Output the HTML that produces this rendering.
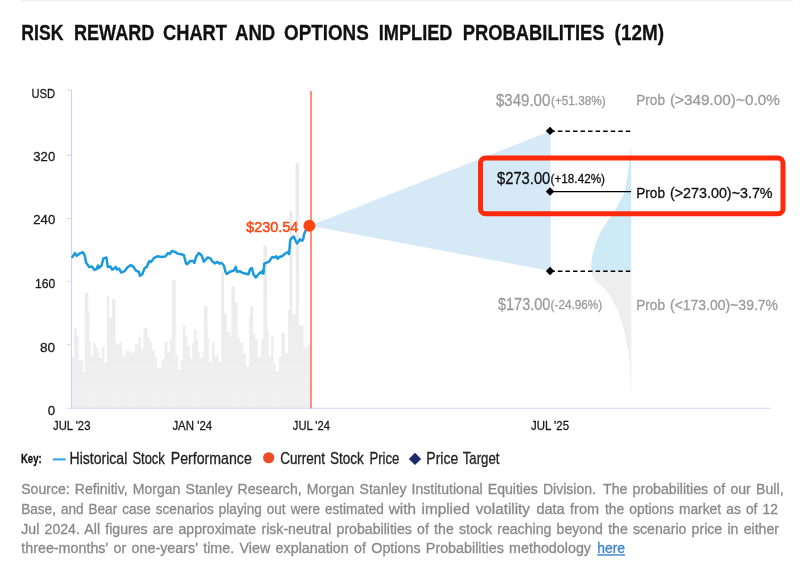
<!DOCTYPE html>
<html lang="en">
<head>
<meta charset="utf-8">
<title>Risk Reward Chart and Options Implied Probabilities (12M)</title>
<style>
html,body{margin:0;padding:0;background:#fff;}
body{width:800px;height:565px;overflow:hidden;}
svg{display:block;font-family:"Liberation Sans", sans-serif;will-change:transform;}
</style>
</head>
<body>
<svg width="800" height="565" viewBox="0 0 800 565">
<rect width="800" height="565" fill="#ffffff"/>
<rect x="21" y="0" width="772" height="0.8" fill="#ebebeb"/>
<text x="21.3" y="40.4" font-size="21.8" fill="#111" stroke="#111" stroke-width="0.3" textLength="42.1" lengthAdjust="spacingAndGlyphs" font-weight="bold">RISK</text>
<text x="73.9" y="40.4" font-size="21.8" fill="#111" stroke="#111" stroke-width="0.3" textLength="80.5" lengthAdjust="spacingAndGlyphs" font-weight="bold">REWARD</text>
<text x="163" y="40.4" font-size="21.8" fill="#111" stroke="#111" stroke-width="0.3" textLength="64" lengthAdjust="spacingAndGlyphs" font-weight="bold">CHART</text>
<text x="235" y="40.4" font-size="21.8" fill="#111" stroke="#111" stroke-width="0.3" textLength="40.3" lengthAdjust="spacingAndGlyphs" font-weight="bold">AND</text>
<text x="284" y="40.4" font-size="21.8" fill="#111" stroke="#111" stroke-width="0.3" textLength="84.8" lengthAdjust="spacingAndGlyphs" font-weight="bold">OPTIONS</text>
<text x="378.8" y="40.4" font-size="21.8" fill="#111" stroke="#111" stroke-width="0.3" textLength="73.7" lengthAdjust="spacingAndGlyphs" font-weight="bold">IMPLIED</text>
<text x="462.8" y="40.4" font-size="21.8" fill="#111" stroke="#111" stroke-width="0.3" textLength="141.8" lengthAdjust="spacingAndGlyphs" font-weight="bold">PROBABILITIES</text>
<text x="614.6" y="40.4" font-size="21.8" fill="#111" stroke="#111" stroke-width="0.3" textLength="49.4" lengthAdjust="spacingAndGlyphs" font-weight="bold">(12M)</text>
<defs><linearGradient id="vg" gradientUnits="userSpaceOnUse" x1="0" y1="160" x2="0" y2="395"><stop offset="0" stop-color="#000" stop-opacity="0.03"/><stop offset="0.55" stop-color="#000" stop-opacity="0.022"/><stop offset="1" stop-color="#000" stop-opacity="0"/></linearGradient></defs>
<path d="M72,408.2 L72,356.8 L74,356.8 L74,327.7 L76.7,327.7 L76.7,336 L78.8,336 L78.8,360 L80.9,360 L80.9,359.2 L83.1,359.2 L83.1,372 L84.7,372 L84.7,292.5 L88.4,292.5 L88.4,312 L89.5,312 L89.5,340.8 L90.8,340.8 L90.8,355 L93.2,355 L93.2,342.4 L95.6,342.4 L95.6,347.2 L97.5,347.2 L97.5,352.8 L99.6,352.8 L99.6,358 L101.7,358 L101.7,347.2 L104.4,347.2 L104.4,362.4 L106.8,362.4 L106.8,296 L109.2,296 L109.2,317.6 L111.9,317.6 L111.9,299.2 L115.6,299.2 L115.6,343.2 L117.7,343.2 L117.7,344.8 L119.6,344.8 L119.6,341.6 L122,341.6 L122,355.2 L125.2,355.2 L125.2,350.4 L128.4,350.4 L128.4,351.2 L131.6,351.2 L131.6,352.8 L134.8,352.8 L134.8,343.7 L138,343.7 L138,337.6 L141.2,337.6 L141.2,348.8 L143.3,348.8 L143.3,328.3 L147.6,328.3 L147.6,337.6 L150,337.6 L150,342.4 L152.4,342.4 L152.4,350.4 L154.8,350.4 L154.8,356.8 L157.2,356.8 L157.2,368 L161.2,368 L161.2,359.2 L164.4,359.2 L164.4,341.6 L167.6,341.6 L167.6,352 L170,352 L170,338.4 L172,338.4 L172,280 L175.6,280 L175.6,355.2 L178,355.2 L178,369.6 L180.4,369.6 L180.4,360 L182.8,360 L182.8,325.6 L185.5,325.6 L185.5,336 L187.6,336 L187.6,345.6 L190,345.6 L190,358.4 L191.9,358.4 L191.9,342.4 L194,342.4 L194,330 L196.4,330 L196.4,339.2 L198.3,339.2 L198.3,352 L200.4,352 L200.4,358 L202.5,358 L202.5,352 L204,352 L204,305.6 L207.6,305.6 L207.6,339 L209.2,339 L209.2,361.6 L211.6,361.6 L211.6,342.4 L214.8,342.4 L214.8,356.8 L216.4,356.8 L216.4,354.4 L218.8,354.4 L218.8,361.6 L221.2,361.6 L221.2,271.7 L224,271.7 L224,313.3 L226.8,313.3 L226.8,332 L230,332 L230,336 L231.3,336 L231.3,286.4 L235.1,286.4 L235.1,302.7 L237.7,302.7 L237.7,337.6 L239.9,337.6 L239.9,342.4 L243.6,342.4 L243.6,353.6 L246,353.6 L246,366.4 L248.9,366.4 L248.9,317 L250,317 L250,306.4 L253.2,306.4 L253.2,334.4 L255.3,334.4 L255.3,339.2 L258,339.2 L258,356.8 L261.2,356.8 L261.2,339.2 L263.3,339.2 L263.3,245.7 L267.1,245.7 L267.1,330.4 L268.7,330.4 L268.7,356.8 L270.8,356.8 L270.8,336 L273.5,336 L273.5,362.4 L275.6,362.4 L275.6,371 L278.8,371 L278.8,356.8 L281.2,356.8 L281.2,332.8 L285.2,332.8 L285.2,353.6 L287.9,353.6 L287.9,310 L289.3,310 L289.3,211 L292.5,211 L292.5,314.4 L295.6,314.4 L295.6,162.9 L299.1,162.9 L299.1,325.6 L303.6,325.6 L303.6,347.2 L308.4,347.2 L308.4,343.2 L310,343.2 L310,408.2 Z" fill="#f2f2f2"/>
<path d="M72,408.2 L72,356.8 L74,356.8 L74,327.7 L76.7,327.7 L76.7,336 L78.8,336 L78.8,360 L80.9,360 L80.9,359.2 L83.1,359.2 L83.1,372 L84.7,372 L84.7,292.5 L88.4,292.5 L88.4,312 L89.5,312 L89.5,340.8 L90.8,340.8 L90.8,355 L93.2,355 L93.2,342.4 L95.6,342.4 L95.6,347.2 L97.5,347.2 L97.5,352.8 L99.6,352.8 L99.6,358 L101.7,358 L101.7,347.2 L104.4,347.2 L104.4,362.4 L106.8,362.4 L106.8,296 L109.2,296 L109.2,317.6 L111.9,317.6 L111.9,299.2 L115.6,299.2 L115.6,343.2 L117.7,343.2 L117.7,344.8 L119.6,344.8 L119.6,341.6 L122,341.6 L122,355.2 L125.2,355.2 L125.2,350.4 L128.4,350.4 L128.4,351.2 L131.6,351.2 L131.6,352.8 L134.8,352.8 L134.8,343.7 L138,343.7 L138,337.6 L141.2,337.6 L141.2,348.8 L143.3,348.8 L143.3,328.3 L147.6,328.3 L147.6,337.6 L150,337.6 L150,342.4 L152.4,342.4 L152.4,350.4 L154.8,350.4 L154.8,356.8 L157.2,356.8 L157.2,368 L161.2,368 L161.2,359.2 L164.4,359.2 L164.4,341.6 L167.6,341.6 L167.6,352 L170,352 L170,338.4 L172,338.4 L172,280 L175.6,280 L175.6,355.2 L178,355.2 L178,369.6 L180.4,369.6 L180.4,360 L182.8,360 L182.8,325.6 L185.5,325.6 L185.5,336 L187.6,336 L187.6,345.6 L190,345.6 L190,358.4 L191.9,358.4 L191.9,342.4 L194,342.4 L194,330 L196.4,330 L196.4,339.2 L198.3,339.2 L198.3,352 L200.4,352 L200.4,358 L202.5,358 L202.5,352 L204,352 L204,305.6 L207.6,305.6 L207.6,339 L209.2,339 L209.2,361.6 L211.6,361.6 L211.6,342.4 L214.8,342.4 L214.8,356.8 L216.4,356.8 L216.4,354.4 L218.8,354.4 L218.8,361.6 L221.2,361.6 L221.2,271.7 L224,271.7 L224,313.3 L226.8,313.3 L226.8,332 L230,332 L230,336 L231.3,336 L231.3,286.4 L235.1,286.4 L235.1,302.7 L237.7,302.7 L237.7,337.6 L239.9,337.6 L239.9,342.4 L243.6,342.4 L243.6,353.6 L246,353.6 L246,366.4 L248.9,366.4 L248.9,317 L250,317 L250,306.4 L253.2,306.4 L253.2,334.4 L255.3,334.4 L255.3,339.2 L258,339.2 L258,356.8 L261.2,356.8 L261.2,339.2 L263.3,339.2 L263.3,245.7 L267.1,245.7 L267.1,330.4 L268.7,330.4 L268.7,356.8 L270.8,356.8 L270.8,336 L273.5,336 L273.5,362.4 L275.6,362.4 L275.6,371 L278.8,371 L278.8,356.8 L281.2,356.8 L281.2,332.8 L285.2,332.8 L285.2,353.6 L287.9,353.6 L287.9,310 L289.3,310 L289.3,211 L292.5,211 L292.5,314.4 L295.6,314.4 L295.6,162.9 L299.1,162.9 L299.1,325.6 L303.6,325.6 L303.6,347.2 L308.4,347.2 L308.4,343.2 L310,343.2 L310,408.2 Z" fill="url(#vg)"/>
<g fill="#000" fill-opacity="0.0055">
<rect x="72" y="356.8" width="2.86" height="51.4"/>
<rect x="72.95" y="356.8" width="2.86" height="51.4"/>
<rect x="73.91" y="327.7" width="2.86" height="80.5"/>
<rect x="74.86" y="336" width="2.86" height="72.2"/>
<rect x="75.81" y="336" width="2.86" height="72.2"/>
<rect x="76.77" y="360" width="2.86" height="48.2"/>
<rect x="77.72" y="360" width="2.86" height="48.2"/>
<rect x="78.67" y="360" width="2.86" height="48.2"/>
<rect x="79.62" y="360" width="2.86" height="48.2"/>
<rect x="80.58" y="359.2" width="2.86" height="49"/>
<rect x="81.53" y="372" width="2.86" height="36.2"/>
<rect x="82.48" y="372" width="2.86" height="36.2"/>
<rect x="83.44" y="372" width="2.86" height="36.2"/>
<rect x="84.39" y="292.5" width="2.86" height="115.7"/>
<rect x="85.34" y="292.5" width="2.86" height="115.7"/>
<rect x="86.3" y="312" width="2.86" height="96.2"/>
<rect x="87.25" y="340.8" width="2.86" height="67.4"/>
<rect x="88.2" y="340.8" width="2.86" height="67.4"/>
<rect x="89.15" y="355" width="2.86" height="53.2"/>
<rect x="90.11" y="355" width="2.86" height="53.2"/>
<rect x="91.06" y="355" width="2.86" height="53.2"/>
<rect x="92.01" y="355" width="2.86" height="53.2"/>
<rect x="92.97" y="342.4" width="2.86" height="65.8"/>
<rect x="93.92" y="347.2" width="2.86" height="61"/>
<rect x="94.87" y="347.2" width="2.86" height="61"/>
<rect x="95.83" y="352.8" width="2.86" height="55.4"/>
<rect x="96.78" y="352.8" width="2.86" height="55.4"/>
<rect x="97.73" y="358" width="2.86" height="50.2"/>
<rect x="98.68" y="358" width="2.86" height="50.2"/>
<rect x="99.64" y="358" width="2.86" height="50.2"/>
<rect x="100.59" y="358" width="2.86" height="50.2"/>
<rect x="101.54" y="347.2" width="2.86" height="61"/>
<rect x="102.5" y="362.4" width="2.86" height="45.8"/>
<rect x="103.45" y="362.4" width="2.86" height="45.8"/>
<rect x="104.4" y="362.4" width="2.86" height="45.8"/>
<rect x="105.36" y="362.4" width="2.86" height="45.8"/>
<rect x="106.31" y="296" width="2.86" height="112.2"/>
<rect x="107.26" y="317.6" width="2.86" height="90.6"/>
<rect x="108.21" y="317.6" width="2.86" height="90.6"/>
<rect x="109.17" y="317.6" width="2.86" height="90.6"/>
<rect x="110.12" y="317.6" width="2.86" height="90.6"/>
<rect x="111.07" y="317.6" width="2.86" height="90.6"/>
<rect x="112.03" y="299.2" width="2.86" height="109"/>
<rect x="112.98" y="299.2" width="2.86" height="109"/>
<rect x="113.93" y="343.2" width="2.86" height="65"/>
<rect x="114.89" y="343.2" width="2.86" height="65"/>
<rect x="115.84" y="344.8" width="2.86" height="63.4"/>
<rect x="116.79" y="344.8" width="2.86" height="63.4"/>
<rect x="117.74" y="344.8" width="2.86" height="63.4"/>
<rect x="118.7" y="344.8" width="2.86" height="63.4"/>
<rect x="119.65" y="341.6" width="2.86" height="66.6"/>
<rect x="120.6" y="355.2" width="2.86" height="53"/>
<rect x="121.56" y="355.2" width="2.86" height="53"/>
<rect x="122.51" y="355.2" width="2.86" height="53"/>
<rect x="123.46" y="355.2" width="2.86" height="53"/>
<rect x="124.42" y="355.2" width="2.86" height="53"/>
<rect x="125.37" y="350.4" width="2.86" height="57.8"/>
<rect x="126.32" y="351.2" width="2.86" height="57"/>
<rect x="127.27" y="351.2" width="2.86" height="57"/>
<rect x="128.23" y="351.2" width="2.86" height="57"/>
<rect x="129.18" y="351.2" width="2.86" height="57"/>
<rect x="130.13" y="352.8" width="2.86" height="55.4"/>
<rect x="131.09" y="352.8" width="2.86" height="55.4"/>
<rect x="132.04" y="352.8" width="2.86" height="55.4"/>
<rect x="132.99" y="352.8" width="2.86" height="55.4"/>
<rect x="133.95" y="352.8" width="2.86" height="55.4"/>
<rect x="134.9" y="343.7" width="2.86" height="64.5"/>
<rect x="135.85" y="343.7" width="2.86" height="64.5"/>
<rect x="136.8" y="343.7" width="2.86" height="64.5"/>
<rect x="137.76" y="337.6" width="2.86" height="70.6"/>
<rect x="138.71" y="337.6" width="2.86" height="70.6"/>
<rect x="139.66" y="348.8" width="2.86" height="59.4"/>
<rect x="140.62" y="348.8" width="2.86" height="59.4"/>
<rect x="141.57" y="348.8" width="2.86" height="59.4"/>
<rect x="142.52" y="348.8" width="2.86" height="59.4"/>
<rect x="143.48" y="328.3" width="2.86" height="79.9"/>
<rect x="144.43" y="328.3" width="2.86" height="79.9"/>
<rect x="145.38" y="337.6" width="2.86" height="70.6"/>
<rect x="146.33" y="337.6" width="2.86" height="70.6"/>
<rect x="147.29" y="337.6" width="2.86" height="70.6"/>
<rect x="148.24" y="342.4" width="2.86" height="65.8"/>
<rect x="149.19" y="342.4" width="2.86" height="65.8"/>
<rect x="150.15" y="350.4" width="2.86" height="57.8"/>
<rect x="151.1" y="350.4" width="2.86" height="57.8"/>
<rect x="152.05" y="350.4" width="2.86" height="57.8"/>
<rect x="153.01" y="356.8" width="2.86" height="51.4"/>
<rect x="153.96" y="356.8" width="2.86" height="51.4"/>
<rect x="154.91" y="368" width="2.86" height="40.2"/>
<rect x="155.86" y="368" width="2.86" height="40.2"/>
<rect x="156.82" y="368" width="2.86" height="40.2"/>
<rect x="157.77" y="368" width="2.86" height="40.2"/>
<rect x="158.72" y="368" width="2.86" height="40.2"/>
<rect x="159.68" y="368" width="2.86" height="40.2"/>
<rect x="160.63" y="368" width="2.86" height="40.2"/>
<rect x="161.58" y="359.2" width="2.86" height="49"/>
<rect x="162.54" y="359.2" width="2.86" height="49"/>
<rect x="163.49" y="359.2" width="2.86" height="49"/>
<rect x="164.44" y="341.6" width="2.86" height="66.6"/>
<rect x="165.39" y="352" width="2.86" height="56.2"/>
<rect x="166.35" y="352" width="2.86" height="56.2"/>
<rect x="167.3" y="352" width="2.86" height="56.2"/>
<rect x="168.25" y="352" width="2.86" height="56.2"/>
<rect x="169.21" y="352" width="2.86" height="56.2"/>
<rect x="170.16" y="338.4" width="2.86" height="69.8"/>
<rect x="171.11" y="338.4" width="2.86" height="69.8"/>
<rect x="172.07" y="280" width="2.86" height="128.2"/>
<rect x="173.02" y="280" width="2.86" height="128.2"/>
<rect x="173.97" y="355.2" width="2.86" height="53"/>
<rect x="174.92" y="355.2" width="2.86" height="53"/>
<rect x="175.88" y="369.6" width="2.86" height="38.6"/>
<rect x="176.83" y="369.6" width="2.86" height="38.6"/>
<rect x="177.78" y="369.6" width="2.86" height="38.6"/>
<rect x="178.74" y="369.6" width="2.86" height="38.6"/>
<rect x="179.69" y="369.6" width="2.86" height="38.6"/>
<rect x="180.64" y="360" width="2.86" height="48.2"/>
<rect x="181.6" y="360" width="2.86" height="48.2"/>
<rect x="182.55" y="325.6" width="2.86" height="82.6"/>
<rect x="183.5" y="336" width="2.86" height="72.2"/>
<rect x="184.45" y="336" width="2.86" height="72.2"/>
<rect x="185.41" y="345.6" width="2.86" height="62.6"/>
<rect x="186.36" y="345.6" width="2.86" height="62.6"/>
<rect x="187.31" y="345.6" width="2.86" height="62.6"/>
<rect x="188.27" y="358.4" width="2.86" height="49.8"/>
<rect x="189.22" y="358.4" width="2.86" height="49.8"/>
<rect x="190.17" y="358.4" width="2.86" height="49.8"/>
<rect x="191.13" y="358.4" width="2.86" height="49.8"/>
<rect x="192.08" y="342.4" width="2.86" height="65.8"/>
<rect x="193.03" y="342.4" width="2.86" height="65.8"/>
<rect x="193.98" y="330" width="2.86" height="78.2"/>
<rect x="194.94" y="339.2" width="2.86" height="69"/>
<rect x="195.89" y="339.2" width="2.86" height="69"/>
<rect x="196.84" y="352" width="2.86" height="56.2"/>
<rect x="197.8" y="352" width="2.86" height="56.2"/>
<rect x="198.75" y="358" width="2.86" height="50.2"/>
<rect x="199.7" y="358" width="2.86" height="50.2"/>
<rect x="200.66" y="358" width="2.86" height="50.2"/>
<rect x="201.61" y="358" width="2.86" height="50.2"/>
<rect x="202.56" y="352" width="2.86" height="56.2"/>
<rect x="203.51" y="305.6" width="2.86" height="102.6"/>
<rect x="204.47" y="305.6" width="2.86" height="102.6"/>
<rect x="205.42" y="339" width="2.86" height="69.2"/>
<rect x="206.37" y="339" width="2.86" height="69.2"/>
<rect x="207.33" y="361.6" width="2.86" height="46.6"/>
<rect x="208.28" y="361.6" width="2.86" height="46.6"/>
<rect x="209.23" y="361.6" width="2.86" height="46.6"/>
<rect x="210.19" y="361.6" width="2.86" height="46.6"/>
<rect x="211.14" y="342.4" width="2.86" height="65.8"/>
<rect x="212.09" y="342.4" width="2.86" height="65.8"/>
<rect x="213.04" y="356.8" width="2.86" height="51.4"/>
<rect x="214" y="356.8" width="2.86" height="51.4"/>
<rect x="214.95" y="356.8" width="2.86" height="51.4"/>
<rect x="215.9" y="354.4" width="2.86" height="53.8"/>
<rect x="216.86" y="361.6" width="2.86" height="46.6"/>
<rect x="217.81" y="361.6" width="2.86" height="46.6"/>
<rect x="218.76" y="361.6" width="2.86" height="46.6"/>
<rect x="219.72" y="361.6" width="2.86" height="46.6"/>
<rect x="220.67" y="271.7" width="2.86" height="136.5"/>
<rect x="221.62" y="271.7" width="2.86" height="136.5"/>
<rect x="222.57" y="313.3" width="2.86" height="94.9"/>
<rect x="223.53" y="313.3" width="2.86" height="94.9"/>
<rect x="224.48" y="313.3" width="2.86" height="94.9"/>
<rect x="225.43" y="332" width="2.86" height="76.2"/>
<rect x="226.39" y="332" width="2.86" height="76.2"/>
<rect x="227.34" y="332" width="2.86" height="76.2"/>
<rect x="228.29" y="336" width="2.86" height="72.2"/>
<rect x="229.25" y="336" width="2.86" height="72.2"/>
<rect x="230.2" y="336" width="2.86" height="72.2"/>
<rect x="231.15" y="286.4" width="2.86" height="121.8"/>
<rect x="232.1" y="286.4" width="2.86" height="121.8"/>
<rect x="233.06" y="302.7" width="2.86" height="105.5"/>
<rect x="234.01" y="302.7" width="2.86" height="105.5"/>
<rect x="234.96" y="302.7" width="2.86" height="105.5"/>
<rect x="235.92" y="337.6" width="2.86" height="70.6"/>
<rect x="236.87" y="337.6" width="2.86" height="70.6"/>
<rect x="237.82" y="342.4" width="2.86" height="65.8"/>
<rect x="238.78" y="342.4" width="2.86" height="65.8"/>
<rect x="239.73" y="342.4" width="2.86" height="65.8"/>
<rect x="240.68" y="342.4" width="2.86" height="65.8"/>
<rect x="241.63" y="353.6" width="2.86" height="54.6"/>
<rect x="242.59" y="353.6" width="2.86" height="54.6"/>
<rect x="243.54" y="353.6" width="2.86" height="54.6"/>
<rect x="244.49" y="366.4" width="2.86" height="41.8"/>
<rect x="245.45" y="366.4" width="2.86" height="41.8"/>
<rect x="246.4" y="366.4" width="2.86" height="41.8"/>
<rect x="247.35" y="366.4" width="2.86" height="41.8"/>
<rect x="248.31" y="366.4" width="2.86" height="41.8"/>
<rect x="249.26" y="317" width="2.86" height="91.2"/>
<rect x="250.21" y="306.4" width="2.86" height="101.8"/>
<rect x="251.16" y="334.4" width="2.86" height="73.8"/>
<rect x="252.12" y="334.4" width="2.86" height="73.8"/>
<rect x="253.07" y="339.2" width="2.86" height="69"/>
<rect x="254.02" y="339.2" width="2.86" height="69"/>
<rect x="254.98" y="339.2" width="2.86" height="69"/>
<rect x="255.93" y="356.8" width="2.86" height="51.4"/>
<rect x="256.88" y="356.8" width="2.86" height="51.4"/>
<rect x="257.84" y="356.8" width="2.86" height="51.4"/>
<rect x="258.79" y="356.8" width="2.86" height="51.4"/>
<rect x="259.74" y="356.8" width="2.86" height="51.4"/>
<rect x="260.69" y="339.2" width="2.86" height="69"/>
<rect x="261.65" y="339.2" width="2.86" height="69"/>
<rect x="262.6" y="339.2" width="2.86" height="69"/>
<rect x="263.55" y="245.7" width="2.86" height="162.5"/>
<rect x="264.51" y="245.7" width="2.86" height="162.5"/>
<rect x="265.46" y="330.4" width="2.86" height="77.8"/>
<rect x="266.41" y="356.8" width="2.86" height="51.4"/>
<rect x="267.37" y="356.8" width="2.86" height="51.4"/>
<rect x="268.32" y="356.8" width="2.86" height="51.4"/>
<rect x="269.27" y="356.8" width="2.86" height="51.4"/>
<rect x="270.22" y="356.8" width="2.86" height="51.4"/>
<rect x="271.18" y="336" width="2.86" height="72.2"/>
<rect x="272.13" y="362.4" width="2.86" height="45.8"/>
<rect x="273.08" y="362.4" width="2.86" height="45.8"/>
<rect x="274.04" y="371" width="2.86" height="37.2"/>
<rect x="274.99" y="371" width="2.86" height="37.2"/>
<rect x="275.94" y="371" width="2.86" height="37.2"/>
<rect x="276.9" y="371" width="2.86" height="37.2"/>
<rect x="277.85" y="371" width="2.86" height="37.2"/>
<rect x="278.8" y="356.8" width="2.86" height="51.4"/>
<rect x="279.75" y="356.8" width="2.86" height="51.4"/>
<rect x="280.71" y="332.8" width="2.86" height="75.4"/>
<rect x="281.66" y="332.8" width="2.86" height="75.4"/>
<rect x="282.61" y="332.8" width="2.86" height="75.4"/>
<rect x="283.57" y="353.6" width="2.86" height="54.6"/>
<rect x="284.52" y="353.6" width="2.86" height="54.6"/>
<rect x="285.47" y="353.6" width="2.86" height="54.6"/>
<rect x="286.42" y="353.6" width="2.86" height="54.6"/>
<rect x="287.38" y="310" width="2.86" height="98.2"/>
<rect x="288.33" y="310" width="2.86" height="98.2"/>
<rect x="289.28" y="211" width="2.86" height="197.2"/>
<rect x="290.24" y="314.4" width="2.86" height="93.8"/>
<rect x="291.19" y="314.4" width="2.86" height="93.8"/>
<rect x="292.14" y="314.4" width="2.86" height="93.8"/>
<rect x="293.1" y="314.4" width="2.86" height="93.8"/>
<rect x="294.05" y="314.4" width="2.86" height="93.8"/>
<rect x="295" y="314.4" width="2.86" height="93.8"/>
<rect x="295.95" y="162.9" width="2.86" height="245.3"/>
<rect x="296.91" y="325.6" width="2.86" height="82.6"/>
<rect x="297.86" y="325.6" width="2.86" height="82.6"/>
<rect x="298.81" y="325.6" width="2.86" height="82.6"/>
<rect x="299.77" y="325.6" width="2.86" height="82.6"/>
<rect x="300.72" y="325.6" width="2.86" height="82.6"/>
<rect x="301.67" y="347.2" width="2.86" height="61"/>
<rect x="302.63" y="347.2" width="2.86" height="61"/>
<rect x="303.58" y="347.2" width="2.86" height="61"/>
<rect x="304.53" y="347.2" width="2.86" height="61"/>
<rect x="305.48" y="347.2" width="2.86" height="61"/>
<rect x="306.44" y="347.2" width="2.86" height="61"/>
<rect x="307.39" y="347.2" width="2.86" height="61"/>
</g>
<path d="M67,90 H71.5 V408.3 M67,155.2 H71.5 M67,218.5 H71.5 M67,281.3 H71.5 M67,344.7 H71.5 M67,408.3 H770.6" fill="none" stroke="#cbd6f3" stroke-width="1.1"/>
<text x="31.5" y="97.8" font-size="13.5" fill="#1a1a1a" stroke="#1a1a1a" stroke-width="0.3" textLength="23.7" lengthAdjust="spacingAndGlyphs">USD</text>
<text x="33.3" y="160.5" font-size="13.5" fill="#1a1a1a" stroke="#1a1a1a" stroke-width="0.3" textLength="21.9" lengthAdjust="spacingAndGlyphs">320</text>
<text x="33.3" y="224" font-size="13.5" fill="#1a1a1a" stroke="#1a1a1a" stroke-width="0.3" textLength="21.9" lengthAdjust="spacingAndGlyphs">240</text>
<text x="35" y="287.5" font-size="13.5" fill="#1a1a1a" stroke="#1a1a1a" stroke-width="0.3" textLength="20.2" lengthAdjust="spacingAndGlyphs">160</text>
<text x="40" y="351.5" font-size="13.5" fill="#1a1a1a" stroke="#1a1a1a" stroke-width="0.3" textLength="15.2" lengthAdjust="spacingAndGlyphs">80</text>
<text x="47.8" y="415" font-size="13.5" fill="#1a1a1a" stroke="#1a1a1a" stroke-width="0.3" textLength="7.4" lengthAdjust="spacingAndGlyphs">0</text>
<text x="53" y="430.3" font-size="13" fill="#1a1a1a" stroke="#1a1a1a" stroke-width="0.3" textLength="37.4" lengthAdjust="spacingAndGlyphs">JUL '23</text>
<text x="172.4" y="430.3" font-size="13" fill="#1a1a1a" stroke="#1a1a1a" stroke-width="0.3" textLength="39.8" lengthAdjust="spacingAndGlyphs">JAN '24</text>
<text x="292.8" y="430.3" font-size="13" fill="#1a1a1a" stroke="#1a1a1a" stroke-width="0.3" textLength="37.1" lengthAdjust="spacingAndGlyphs">JUL '24</text>
<text x="531" y="430.3" font-size="13" fill="#1a1a1a" stroke="#1a1a1a" stroke-width="0.3" textLength="38" lengthAdjust="spacingAndGlyphs">JUL '25</text>
<path d="M310,225.8 L550.6,131 L550.6,271 Z" fill="#d6e9f7"/>
<defs><clipPath id="cu"><rect x="580" y="130" width="60" height="141.25"/></clipPath><clipPath id="cl"><rect x="580" y="271.25" width="60" height="140"/></clipPath></defs>
<path d="M631.2,143.5 C631.08,144.58 630.78,147.67 630.5,150 C630.22,152.33 629.98,153.33 629.5,157.5 C629.02,161.67 628.43,169.33 627.6,175 C626.77,180.67 625.68,187.33 624.5,191.5 C623.32,195.67 622.17,196.71 620.5,200 C618.83,203.29 617.08,207.08 614.5,211.25 C611.92,215.42 607.75,220.62 605,225 C602.25,229.38 599.88,233.33 598,237.5 C596.12,241.67 594.82,246.25 593.75,250 C592.68,253.75 592.02,257 591.6,260 C591.18,263 591.2,265.67 591.2,268 C591.2,270.33 590.97,272 591.6,274 C592.23,276 592.68,277.33 595,280 C597.32,282.67 602.58,286.67 605.5,290 C608.42,293.33 610.38,296.25 612.5,300 C614.62,303.75 616.58,308.33 618.25,312.5 C619.92,316.67 621.25,320.83 622.5,325 C623.75,329.17 624.83,333.33 625.75,337.5 C626.67,341.67 627.38,345.83 628,350 C628.62,354.17 629.12,358.33 629.5,362.5 C629.88,366.67 630.08,370.75 630.3,375 C630.52,379.25 630.65,384.17 630.8,388 C630.95,391.83 631.13,396.33 631.2,398 L631.3,398 Z" fill="#cdeaf5" clip-path="url(#cu)"/>
<path d="M631.2,143.5 C631.08,144.58 630.78,147.67 630.5,150 C630.22,152.33 629.98,153.33 629.5,157.5 C629.02,161.67 628.43,169.33 627.6,175 C626.77,180.67 625.68,187.33 624.5,191.5 C623.32,195.67 622.17,196.71 620.5,200 C618.83,203.29 617.08,207.08 614.5,211.25 C611.92,215.42 607.75,220.62 605,225 C602.25,229.38 599.88,233.33 598,237.5 C596.12,241.67 594.82,246.25 593.75,250 C592.68,253.75 592.02,257 591.6,260 C591.18,263 591.2,265.67 591.2,268 C591.2,270.33 590.97,272 591.6,274 C592.23,276 592.68,277.33 595,280 C597.32,282.67 602.58,286.67 605.5,290 C608.42,293.33 610.38,296.25 612.5,300 C614.62,303.75 616.58,308.33 618.25,312.5 C619.92,316.67 621.25,320.83 622.5,325 C623.75,329.17 624.83,333.33 625.75,337.5 C626.67,341.67 627.38,345.83 628,350 C628.62,354.17 629.12,358.33 629.5,362.5 C629.88,366.67 630.08,370.75 630.3,375 C630.52,379.25 630.65,384.17 630.8,388 C630.95,391.83 631.13,396.33 631.2,398 L631.3,398 Z" fill="#eeeeee" clip-path="url(#cl)"/>
<path d="M72.4,257 L75,253.1 L76.8,255.8 L80.4,253.1 L83,252.2 L84.8,255.8 L86.2,262.8 L89.2,266.9 L91.9,266.4 L94.5,269.9 L96.3,269.4 L98,265.5 L98.9,268.1 L101.6,265.5 L103.4,258.4 L106.4,257.5 L107.8,266.9 L110.4,266.4 L112.2,269.6 L114,268.7 L115.8,266.9 L117,269.6 L119.3,268.7 L121.1,272.6 L124.6,271.2 L127.3,267.6 L130.8,265.1 L133.5,266.9 L136.1,270.8 L138.8,271.7 L140,275.8 L142.3,274.3 L144.6,268.1 L146.7,266.9 L149.4,261.1 L151.2,261.9 L153.8,258.1 L157.3,256.3 L161.8,257 L165.3,256.6 L168,253.1 L169.7,254 L171.9,251 L175,251.9 L177.7,253.6 L182.1,254.5 L183.9,255.2 L186,263.4 L187.4,264.1 L190.1,261.1 L193.5,261.1 L194.4,262.8 L196.2,256.6 L198.8,253.1 L201.5,255.2 L202.7,258.4 L203.8,261.6 L205.9,259.3 L207.7,257.5 L210.4,258.4 L212.1,261.1 L214.8,263.4 L217.4,261.9 L219.2,263.7 L221.5,262.8 L224,265.8 L225.4,271.7 L226.8,274 L229.8,271.7 L233.4,270.8 L234.6,269.4 L235.7,266.9 L236.9,271.7 L239.6,271.2 L242.2,272.6 L244.9,273.5 L248.4,274.3 L250.2,269 L251.9,268.1 L253.4,274.3 L255.8,277.5 L258.1,274.7 L259.9,272.6 L261.7,272.9 L262.6,270.8 L263.5,273.5 L264.3,263.7 L266.1,262.8 L268.8,261.9 L270.5,259.3 L272.3,257 L275,257.5 L276.4,256.3 L277.6,258.8 L279.4,257 L282,256.3 L284.7,254 L287.3,252.2 L289.1,254 L290.2,240 L291.5,238.3 L293.8,236.6 L295.5,240.5 L297,243.4 L298.5,241.5 L300,239.2 L301.9,240.8 L303.1,239.8 L304,234.5 L305.6,230.6 L308.5,226.5" fill="none" stroke="#1b9bdc" stroke-width="2.5" stroke-linejoin="round" stroke-linecap="round"/>
<rect x="310" y="91" width="2" height="317.4" fill="#ff8f78"/>
<circle cx="309.4" cy="225.7" r="5.95" fill="#ff4410"/>
<text x="246.25" y="232.3" font-size="14.6" fill="#ff4410" stroke="#ff4410" stroke-width="0.45" textLength="52" lengthAdjust="spacingAndGlyphs">$230.54</text>
<path d="M550.3,131.25 H631 M550.3,271.25 H631" stroke="#000" stroke-width="1.5" stroke-dasharray="4.5 3.05" fill="none"/>
<path d="M553,191.6 H631" stroke="#000" stroke-width="1.3" fill="none"/>
<path d="M550.05,126.7 L554.25,130.9 L550.05,135.1 L545.85,130.9 Z" fill="#000"/>
<path d="M550.05,187.3 L554.25,191.5 L550.05,195.7 L545.85,191.5 Z" fill="#000"/>
<path d="M550.05,266.8 L554.25,271 L550.05,275.2 L545.85,271 Z" fill="#000"/>
<text x="496" y="105.5" font-size="16.6" fill="#9b9b9b" stroke="#9b9b9b" stroke-width="0.3" textLength="54.3" lengthAdjust="spacingAndGlyphs">$349.00</text>
<text x="551" y="104.6" font-size="12.2" fill="#9b9b9b" stroke="#9b9b9b" stroke-width="0.3" textLength="54.6" lengthAdjust="spacingAndGlyphs">(+51.38%)</text>
<text x="636.2" y="104.8" font-size="14.5" fill="#9b9b9b" stroke="#9b9b9b" stroke-width="0.3" textLength="28.8" lengthAdjust="spacingAndGlyphs">Prob</text>
<text x="670" y="104.8" font-size="14.5" fill="#9b9b9b" stroke="#9b9b9b" stroke-width="0.3" textLength="109.8" lengthAdjust="spacingAndGlyphs">(&gt;349.00)~0.0%</text>
<text x="497" y="184.2" font-size="16.6" fill="#111" stroke="#111" stroke-width="0.3" textLength="53.3" lengthAdjust="spacingAndGlyphs">$273.00</text>
<text x="550.6" y="183.3" font-size="12.2" fill="#111" stroke="#111" stroke-width="0.3" textLength="54.4" lengthAdjust="spacingAndGlyphs">(+18.42%)</text>
<text x="636.2" y="197.5" font-size="14.5" fill="#111" stroke="#111" stroke-width="0.3" textLength="28.8" lengthAdjust="spacingAndGlyphs">Prob</text>
<text x="670" y="197.5" font-size="14.5" fill="#111" stroke="#111" stroke-width="0.3" textLength="102.6" lengthAdjust="spacingAndGlyphs">(&gt;273.00)~3.7%</text>
<text x="498" y="310" font-size="16.6" fill="#9b9b9b" stroke="#9b9b9b" stroke-width="0.3" textLength="52.3" lengthAdjust="spacingAndGlyphs">$173.00</text>
<text x="550.6" y="309.2" font-size="12.2" fill="#9b9b9b" stroke="#9b9b9b" stroke-width="0.3" textLength="51.6" lengthAdjust="spacingAndGlyphs">(-24.96%)</text>
<text x="636.2" y="310" font-size="14.5" fill="#9b9b9b" stroke="#9b9b9b" stroke-width="0.3" textLength="28.8" lengthAdjust="spacingAndGlyphs">Prob</text>
<text x="670" y="310" font-size="14.5" fill="#9b9b9b" stroke="#9b9b9b" stroke-width="0.3" textLength="108" lengthAdjust="spacingAndGlyphs">(&lt;173.00)~39.7%</text>
<rect x="480.5" y="158" width="302.5" height="55.75" rx="5" ry="5" fill="none" stroke="#ff2a0c" stroke-width="5"/>
<text x="21" y="463.2" font-size="13" fill="#111" stroke="#111" stroke-width="0.3" textLength="20.6" lengthAdjust="spacingAndGlyphs" font-weight="bold">Key:</text>
<rect x="53" y="458.4" width="12.6" height="2" fill="#2aa1e8"/>
<text x="69.6" y="463.8" font-size="16.4" fill="#222" stroke="#222" stroke-width="0.3" textLength="57.7" lengthAdjust="spacingAndGlyphs">Historical</text>
<text x="132.4" y="463.8" font-size="16.4" fill="#222" stroke="#222" stroke-width="0.3" textLength="32.4" lengthAdjust="spacingAndGlyphs">Stock</text>
<text x="170.8" y="463.8" font-size="16.4" fill="#222" stroke="#222" stroke-width="0.3" textLength="81" lengthAdjust="spacingAndGlyphs">Performance</text>
<circle cx="268.7" cy="457.75" r="5.6" fill="#ee4a26"/>
<text x="280.2" y="463.8" font-size="16.4" fill="#222" stroke="#222" stroke-width="0.3" textLength="44.8" lengthAdjust="spacingAndGlyphs">Current</text>
<text x="330" y="463.8" font-size="16.4" fill="#222" stroke="#222" stroke-width="0.3" textLength="33.75" lengthAdjust="spacingAndGlyphs">Stock</text>
<text x="369.4" y="463.8" font-size="16.4" fill="#222" stroke="#222" stroke-width="0.3" textLength="29.9" lengthAdjust="spacingAndGlyphs">Price</text>
<path d="M415,452.7 L421.2,458.9 L415,465.1 L408.8,458.9 Z" fill="#1f2a6b"/>
<text x="426.3" y="463.8" font-size="16.4" fill="#222" stroke="#222" stroke-width="0.3" textLength="31.9" lengthAdjust="spacingAndGlyphs">Price</text>
<text x="462.75" y="463.8" font-size="16.4" fill="#222" stroke="#222" stroke-width="0.3" textLength="36.65" lengthAdjust="spacingAndGlyphs">Target</text>
<g style="word-spacing:1.3px">
<text x="21.25" y="494.25" font-size="14" fill="#898989" stroke="#898989" stroke-width="0.3" textLength="574.75" lengthAdjust="spacingAndGlyphs">Source: Refinitiv, Morgan Stanley Research, Morgan Stanley Institutional Equities Division.</text>
<text x="603" y="494.25" font-size="14" fill="#898989" stroke="#898989" stroke-width="0.3" textLength="180.6" lengthAdjust="spacingAndGlyphs">The probabilities of our Bull,</text>
<text x="21.25" y="513.75" font-size="14" fill="#898989" stroke="#898989" stroke-width="0.3" textLength="362.5" lengthAdjust="spacingAndGlyphs">Base, and Bear case scenarios playing out were estimated</text>
<text x="388.75" y="513.75" font-size="14" fill="#898989" stroke="#898989" stroke-width="0.3" textLength="141.25" lengthAdjust="spacingAndGlyphs">with implied volatility</text>
<text x="536.5" y="513.75" font-size="14" fill="#898989" stroke="#898989" stroke-width="0.3" textLength="62.5" lengthAdjust="spacingAndGlyphs">data from</text>
<text x="605" y="513.75" font-size="14" fill="#898989" stroke="#898989" stroke-width="0.3" textLength="172.9" lengthAdjust="spacingAndGlyphs">the options market as of 12</text>
<text x="21.25" y="533.5" font-size="14" fill="#898989" stroke="#898989" stroke-width="0.3" textLength="757.75" lengthAdjust="spacingAndGlyphs">Jul 2024. All figures are approximate risk-neutral probabilities of the stock reaching beyond the scenario price in either</text>
<text x="21.25" y="553" font-size="14" fill="#898989" stroke="#898989" stroke-width="0.3" textLength="569.75" lengthAdjust="spacingAndGlyphs">three-months' or one-years' time. View explanation of Options Probabilities methodology</text>
<a><text x="597.2" y="553" font-size="14" fill="#3f86c8" stroke="#3f86c8" stroke-width="0.3" textLength="27.8" lengthAdjust="spacingAndGlyphs">here</text></a>
</g>
<rect x="597.2" y="554.1" width="27.8" height="1.7" fill="#5d99d4"/>
</svg>
</body>
</html>
